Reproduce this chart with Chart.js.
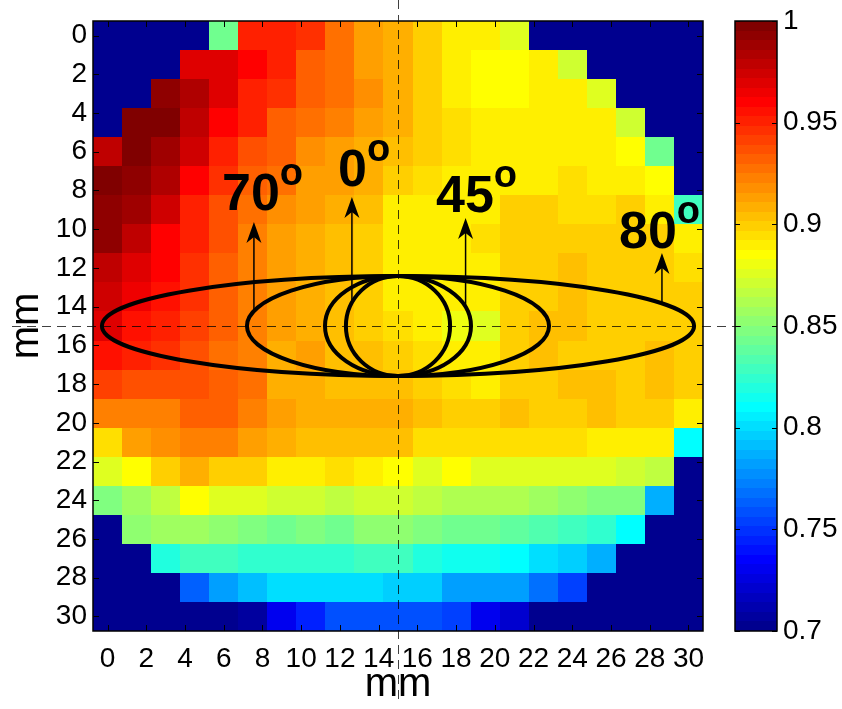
<!DOCTYPE html>
<html>
<head>
<meta charset="utf-8">
<script src="https://cdn.jsdelivr.net/npm/chart.js@4.4.0/dist/chart.umd.min.js"></script>
<style>
  html, body { margin: 0; padding: 0; background: #fff; }
</style>
</head>
<body>
<canvas id="beamMap" width="842" height="709"></canvas>
<script>
const FONT = '"Liberation Sans", Arial, Helvetica, sans-serif';

// cell centres (mm), 1.5 mm pitch
const xCenters = [0, 1.5, 3, 4.5, 6, 7.5, 9, 10.5, 12, 13.5, 15, 16.5, 18, 19.5, 21, 22.5, 24, 25.5, 27, 28.5, 30];
const yCenters = [0, 1.5, 3, 4.5, 6, 7.5, 9, 10.5, 12, 13.5, 15, 16.5, 18, 19.5, 21, 22.5, 24, 25.5, 27, 28.5, 30];

const xTicks = [0, 2, 4, 6, 8, 10, 12, 14, 16, 18, 20, 22, 24, 26, 28, 30];
const yTicks = [0, 2, 4, 6, 8, 10, 12, 14, 16, 18, 20, 22, 24, 26, 28, 30];
const cbTicks = [0.7, 0.75, 0.8, 0.85, 0.9, 0.95, 1];

// normalised response, one row per y position (row 0 = top)
const signal = [
  [.700, .700, .700, .700, .845, .953, .950, .945, .927, .914, .907, .900, .889, .888, .878, .700, .700, .700, .700, .700, .700],
  [.700, .700, .700, .970, .970, .958, .950, .933, .928, .914, .907, .900, .888, .883, .883, .888, .871, .700, .700, .700, .700],
  [.700, .700, .992, .982, .970, .953, .945, .933, .928, .918, .908, .900, .888, .883, .883, .888, .888, .878, .700, .700, .700],
  [.700, 1.00, .997, .979, .962, .950, .931, .927, .924, .914, .907, .900, .895, .888, .888, .888, .888, .888, .873, .700, .700],
  [.979, 1.00, .987, .976, .950, .939, .930, .918, .914, .910, .905, .900, .894, .888, .888, .888, .888, .888, .883, .842, .700],
  [.997, .993, .985, .962, .948, .933, .927, .915, .911, .908, .901, .894, .890, .892, .892, .892, .894, .888, .890, .883, .700],
  [.995, .987, .976, .950, .939, .927, .918, .911, .908, .904, .892, .888, .888, .888, .898, .900, .895, .894, .897, .892, .828],
  [.993, .979, .962, .950, .936, .924, .915, .908, .905, .900, .890, .888, .888, .894, .897, .900, .897, .897, .897, .897, .892],
  [.979, .970, .962, .948, .933, .921, .912, .907, .904, .897, .889, .888, .888, .892, .898, .901, .904, .900, .900, .901, .895],
  [.976, .967, .956, .945, .933, .921, .912, .907, .904, .900, .892, .889, .888, .892, .900, .901, .903, .901, .900, .900, .898],
  [.970, .956, .950, .942, .930, .921, .912, .907, .904, .901, .894, .889, .880, .878, .898, .903, .904, .901, .900, .900, .897],
  [.956, .950, .948, .939, .927, .921, .908, .911, .905, .904, .900, .895, .890, .888, .897, .903, .900, .898, .900, .903, .901],
  [.942, .939, .937, .939, .933, .928, .908, .907, .904, .903, .904, .900, .895, .889, .897, .900, .903, .903, .901, .904, .900],
  [.922, .922, .924, .934, .930, .921, .915, .910, .907, .907, .907, .903, .900, .900, .904, .900, .900, .904, .900, .900, .889],
  [.894, .912, .918, .922, .922, .912, .907, .904, .904, .904, .904, .894, .894, .894, .894, .894, .894, .892, .889, .889, .808],
  [.878, .883, .900, .910, .901, .897, .892, .888, .894, .888, .883, .878, .883, .878, .878, .878, .878, .874, .871, .865, .700],
  [.848, .857, .868, .883, .877, .874, .871, .869, .868, .869, .869, .865, .862, .862, .860, .857, .850, .847, .847, .789, .700],
  [.700, .853, .856, .855, .850, .848, .845, .849, .845, .850, .850, .848, .845, .842, .838, .834, .829, .823, .810, .700, .700],
  [.700, .700, .820, .830, .830, .826, .823, .823, .826, .828, .828, .820, .816, .816, .812, .800, .796, .789, .700, .700, .700],
  [.700, .700, .700, .761, .784, .793, .799, .799, .803, .803, .796, .796, .783, .783, .783, .770, .755, .700, .700, .700, .700],
  [.700, .700, .700, .700, .700, .705, .729, .746, .760, .760, .760, .760, .752, .731, .720, .700, .700, .700, .700, .700, .700]
];

// beam footprint at each incidence angle (mm)
const angleLabels = ['0', '45', '70', '80'];
const footprintHalfWidth = [2.69, 3.77, 7.8, 15.29];
const footprintHalfHeight = 2.58;
const footprintCentre = [15, 15];
const arrowX = [12.62, 18.49, 7.56, 28.63];
const arrowTipY = [8.34, 9.42, 9.63, 11.23];
const labelX = [11.90, 16.96, 5.91, 26.41];
const labelY = [7.77, 9.11, 9.01, 10.97];

const cMin = 0.7, cMax = 1;

// MATLAB-style jet colormap
function jet(m) {
  const n = Math.ceil(m / 4);
  const u = [];
  for (let i = 1; i <= n; i++) u.push(i / n);
  for (let i = 1; i < n; i++) u.push(1);
  for (let i = n; i >= 1; i--) u.push(i / n);
  const g0 = Math.ceil(n / 2) - (m % 4 === 1 ? 1 : 0);
  const map = [];
  for (let i = 0; i < m; i++) map.push([0, 0, 0]);
  u.forEach((val, k) => {
    const g = g0 + k + 1, r = g + n, b = g - n;
    if (r <= m) map[r - 1][0] = val;
    if (g <= m) map[g - 1][1] = val;
    if (b >= 1) map[b - 1][2] = val;
  });
  return map.map(c => 'rgb(' + Math.round(c[0] * 255) + ',' + Math.round(c[1] * 255) + ',' + Math.round(c[2] * 255) + ')');
}
const JET = jet(64);

function colourFor(v) {
  const i = Math.floor((v - cMin) / (cMax - cMin) * JET.length);
  return JET[Math.max(0, Math.min(JET.length - 1, i))];
}

const cells = [];
signal.forEach((row, r) => row.forEach((v, c) => cells.push({ x: xCenters[c], y: yCenters[r], v: v })));

// paints each cell as a rectangle spanning its pitch
const cellPlugin = {
  id: 'cells',
  beforeDatasetsDraw(chart) {
    const { ctx, scales: { x, y } } = chart;
    const hx = (xCenters[1] - xCenters[0]) / 2;
    const hy = (yCenters[1] - yCenters[0]) / 2;
    ctx.save();
    chart.data.datasets[0].data.forEach(p => {
      const x0 = Math.round(x.getPixelForValue(p.x - hx));
      const x1 = Math.round(x.getPixelForValue(p.x + hx));
      const y0 = Math.round(y.getPixelForValue(p.y - hy));
      const y1 = Math.round(y.getPixelForValue(p.y + hy));
      ctx.fillStyle = colourFor(p.v);
      ctx.fillRect(Math.min(x0, x1), Math.min(y0, y1), Math.abs(x1 - x0), Math.abs(y1 - y0));
    });
    ctx.restore();
  }
};

function arrow(ctx, px, y0, y1) {
  ctx.beginPath();
  ctx.moveTo(px, y0);
  ctx.lineTo(px, y1 + 12);
  ctx.lineWidth = 1.5;
  ctx.stroke();
  ctx.beginPath();
  ctx.moveTo(px, y1);
  ctx.lineTo(px + 7.5, y1 + 21);
  ctx.lineTo(px, y1 + 15);
  ctx.lineTo(px - 7.5, y1 + 21);
  ctx.closePath();
  ctx.fill();
}

const overlayPlugin = {
  id: 'overlay',
  afterDatasetsDraw(chart) {
    const { ctx, chartArea: a, scales: { x, y } } = chart;
    ctx.save();
    ctx.strokeStyle = '#000';
    ctx.fillStyle = '#000';

    // axes box with inward ticks
    ctx.lineWidth = 1.5;
    ctx.strokeRect(a.left, a.top, a.right - a.left, a.bottom - a.top);
    ctx.lineWidth = 1;
    ctx.beginPath();
    xTicks.forEach(t => {
      const px = Math.round(x.getPixelForValue(t)) + 0.5;
      ctx.moveTo(px, a.bottom); ctx.lineTo(px, a.bottom - 6);
      ctx.moveTo(px, a.top); ctx.lineTo(px, a.top + 6);
    });
    yTicks.forEach(t => {
      const py = Math.round(y.getPixelForValue(t)) + 0.5;
      ctx.moveTo(a.left, py); ctx.lineTo(a.left + 6, py);
      ctx.moveTo(a.right, py); ctx.lineTo(a.right - 6, py);
    });
    ctx.stroke();

    // footprints
    const cx = x.getPixelForValue(footprintCentre[0]);
    const cy = y.getPixelForValue(footprintCentre[1]);
    const ry = Math.abs(y.getPixelForValue(footprintCentre[1] + footprintHalfHeight) - cy);
    ctx.lineWidth = 4;
    footprintHalfWidth.forEach(hw => {
      const rx = x.getPixelForValue(footprintCentre[0] + hw) - cx;
      ctx.beginPath();
      ctx.ellipse(cx, cy, rx, ry, 0, 0, Math.PI * 2);
      ctx.stroke();
    });

    // arrows from each footprint up to its label
    angleLabels.forEach((lab, i) => {
      const dx = (arrowX[i] - footprintCentre[0]) / footprintHalfWidth[i];
      const startY = footprintCentre[1] - footprintHalfHeight * Math.sqrt(Math.max(0, 1 - dx * dx));
      arrow(ctx, x.getPixelForValue(arrowX[i]), y.getPixelForValue(startY), y.getPixelForValue(arrowTipY[i]));

      const lx = x.getPixelForValue(labelX[i]);
      const ly = y.getPixelForValue(labelY[i]);
      ctx.textAlign = 'left';
      ctx.textBaseline = 'alphabetic';
      ctx.font = 'bold 52px ' + FONT;
      ctx.fillText(lab, lx, ly);
      const w = ctx.measureText(lab).width;
      ctx.font = 'bold 38px ' + FONT;
      ctx.fillText('o', lx + w, ly - 25);
    });
    ctx.restore();
  },
  afterDraw(chart) {
    const { ctx, chartArea: a, scales: { x, y, cb } } = chart;
    ctx.save();

    // colour bar
    const left = 735, right = 777;
    JET.forEach((col, k) => {
      const v0 = cMin + (cMax - cMin) * k / JET.length;
      const v1 = cMin + (cMax - cMin) * (k + 1) / JET.length;
      const y0 = Math.round(cb.getPixelForValue(v1));
      const y1 = Math.round(cb.getPixelForValue(v0));
      ctx.fillStyle = col;
      ctx.fillRect(left, y0, right - left, y1 - y0);
    });
    ctx.strokeStyle = '#000';
    ctx.lineWidth = 1.5;
    ctx.strokeRect(left, a.top, right - left, a.bottom - a.top);
    ctx.lineWidth = 1;
    ctx.beginPath();
    cbTicks.forEach(t => {
      const py = Math.round(cb.getPixelForValue(t)) + 0.5;
      ctx.moveTo(left, py); ctx.lineTo(left + 5, py);
      ctx.moveTo(right, py); ctx.lineTo(right - 5, py);
    });
    ctx.stroke();

    // dashed cross-hair through the footprint centre
    ctx.strokeStyle = 'rgba(0,0,0,0.75)';
    ctx.lineWidth = 1;
    ctx.setLineDash([9, 6]);
    const vx = Math.round(x.getPixelForValue(footprintCentre[0])) + 0.5;
    const hy = Math.round(y.getPixelForValue(footprintCentre[1])) + 0.5;
    ctx.beginPath();
    ctx.moveTo(vx, 0); ctx.lineTo(vx, 700);
    ctx.moveTo(12, hy); ctx.lineTo(745, hy);
    ctx.stroke();
    ctx.restore();
  }
};

// fixed axis boxes, no label overhang
function fixBox(w, h) {
  return s => {
    if (w) s.width = w;
    if (h) s.height = h;
    s.paddingTop = 0; s.paddingBottom = 0; s.paddingLeft = 0; s.paddingRight = 0;
  };
}

const tickFont = { size: 28, family: FONT };
const titleFont = { size: 40, family: FONT };

const config = {
  type: 'scatter',
  data: {
    datasets: [{ data: cells, pointRadius: 0, pointHoverRadius: 0 }]
  },
  options: {
    responsive: false,
    animation: false,
    devicePixelRatio: 1,
    layout: { padding: { top: 21, left: 0, right: 0, bottom: 0 } },
    plugins: {
      legend: { display: false },
      tooltip: { enabled: false }
    },
    scales: {
      x: {
        type: 'linear',
        position: 'bottom',
        min: -0.75,
        max: 30.75,
        afterBuildTicks: s => { s.ticks = xTicks.map(v => ({ value: v })); },
        afterFit: fixBox(0, 78),
        grid: { display: false, drawTicks: false },
        border: { display: false },
        ticks: { padding: 11, color: '#000', font: tickFont, maxRotation: 0, autoSkip: false, callback: v => String(v) },
        title: { display: true, text: 'mm', color: '#000', font: titleFont, padding: { top: 0, bottom: 0 } }
      },
      y: {
        type: 'linear',
        position: 'left',
        reverse: true,
        min: -0.75,
        max: 30.75,
        afterBuildTicks: s => { s.ticks = yTicks.map(v => ({ value: v })); },
        afterFit: fixBox(93, 0),
        grid: { display: false, drawTicks: false },
        border: { display: false },
        ticks: { padding: 6, color: '#000', font: tickFont, autoSkip: false, callback: v => String(v) },
        title: { display: true, text: 'mm', color: '#000', font: titleFont, padding: { top: 3, bottom: 0 } }
      },
      cb: {
        type: 'linear',
        position: 'right',
        min: cMin,
        max: cMax,
        afterBuildTicks: s => { s.ticks = cbTicks.map(v => ({ value: v })); },
        afterFit: fixBox(139, 0),
        grid: { display: false, drawTicks: false },
        border: { display: false },
        ticks: { padding: 80, color: '#000', font: tickFont, autoSkip: false, callback: v => String(v) }
      }
    }
  },
  plugins: [cellPlugin, overlayPlugin]
};

const beamChart = new Chart(document.getElementById('beamMap').getContext('2d'), config);
</script>
</body>
</html>
